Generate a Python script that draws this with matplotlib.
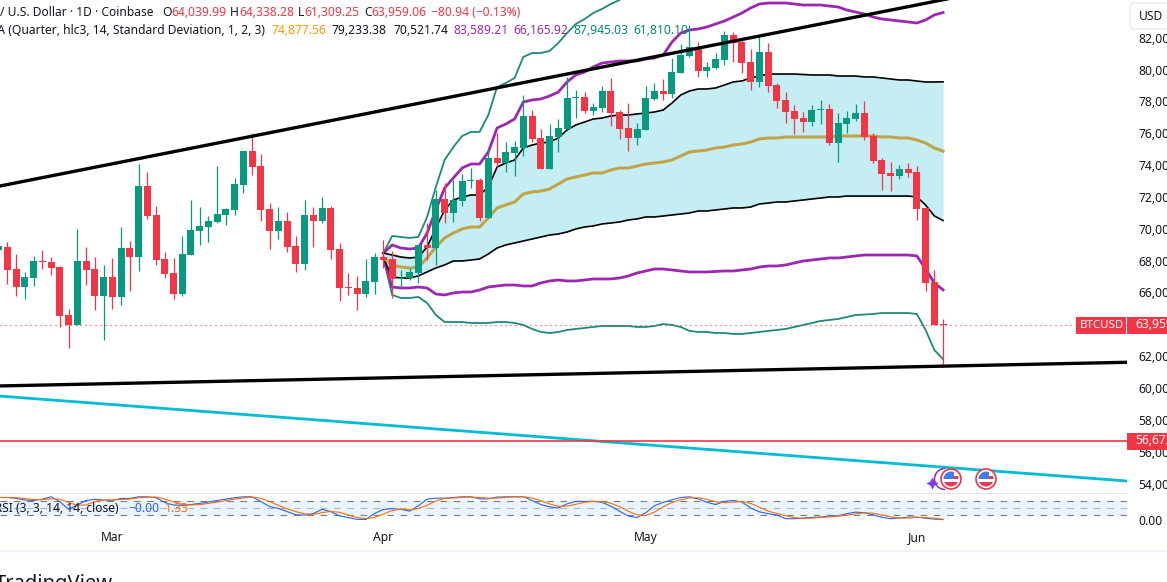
import matplotlib
matplotlib.use("Agg")
import matplotlib.pyplot as plt
from matplotlib.patches import Circle, Rectangle, FancyBboxPatch, Arc

plt.rcParams['font.family'] = ['Noto Sans', 'DejaVu Sans']

GREEN = '#089981'
RED = '#F23645'
TXT = 8.7

#Daily candles, one per day from late Feb to early Jun
opens = [68700,68860,67480,66350,66910,67980,67920,67600,64590,63960,
         67980,67480,65780,66970,65720,68800,68230,72690,70870,68105,
         67225,65905,68360,69865,70115,70430,70870,71180,72755,74890,
         73945,71245,69865,70490,68920,67790,70870,70490,71310,68735,
         66345,66285,65905,66660,68230,68105,66850,66910,67225,68985,
         68800,71875,70995,71750,73005,73070,70680,74450,74135,74765,
         75080,77090,75705,73760,75770,76270,78220,78280,77400,77590,
         78660,77340,76335,75705,76210,78155,78660,78470,79790,80860,
         81425,79915,80105,80606,82175,81740,80480,79225,81110,79035,
         78095,77400,76960,76710,77465,77530,75390,76585,76900,77275,
         75830,74325,73505,73320,73760,73570,71310,66660,64040]
highs = [68920,69170,68420,67290,68290,68670,68230,67670,64960,69990,
         68860,68230,67730,68170,70115,69235,74075,73570,71435,68545,
         68170,69550,71810,71370,70805,73945,71310,73195,74890,76020,
         74700,71625,71370,71055,69550,71810,71370,72000,71435,69110,
         67225,67035,68105,68480,69300,68610,67415,67540,68985,70365,
         72440,72880,73070,73445,73820,73195,74950,76020,75455,75515,
         78410,77465,76270,76585,76900,79540,78720,78595,77905,78975,
         79475,77465,77905,76650,78975,79160,79415,80730,81610,82805,
         81740,80480,81045,82430,82365,81925,81295,82050,81675,79160,
         78600,77780,77340,77780,78095,77845,77275,77400,77845,78030,
         76020,74450,74200,74010,74135,73945,71310,67415,64338]
lows = [68700,66530,65780,65590,66410,67480,67100,63835,62510,63960,
        66470,64900,63020,64960,65215,66095,67350,70620,67730,66910,
        65590,65780,68360,68985,69175,70365,70240,70870,72250,73380,
        70490,68735,69360,68545,67290,67415,68860,70365,68105,65465,
        65845,64900,65720,65905,67540,65655,66345,66785,66600,68040,
        67730,70365,70430,71435,72565,70490,70680,73885,73570,73320,
        74575,75455,73760,73760,74825,76270,76960,77275,77150,77340,
        76460,75645,74890,75265,76210,78095,78095,78220,79790,80795,
        79540,79540,80040,80290,80480,79790,78720,78910,78600,77590,
        76650,75955,76085,76460,76585,75265,74200,76020,76775,75580,
        74135,72440,72375,73130,73255,70555,66095,63960,61309]
closes = [68920,67410,66350,66970,67980,67920,67540,64525,63960,67980,
          67410,65780,66970,65720,68800,68230,72690,70805,68040,67165,
          65905,68420,69925,70180,70490,70930,71245,72815,74890,73885,
          71180,69865,70490,68860,67790,70870,70490,71310,68670,66285,
          66285,65905,66725,68230,68040,66850,66910,67285,68985,68800,
          71875,70995,71810,73005,73070,70680,74450,74135,74825,75140,
          77090,75645,73760,75830,76335,78220,78280,77400,77655,78660,
          77275,76270,75705,76270,78220,78660,78470,79850,80920,81425,
          79915,80170,80670,82175,81675,80420,79225,81110,78975,78030,
          77340,76900,76710,77465,77530,75390,76650,76960,77275,75770,
          74260,73445,73320,73760,73505,71245,66600,63960,63959]

#Anchored VWAP and its bands, they start at bar 44
band_start = 44
vwap = [68170,67730,67600,67540,67600,68170,68860,69425,69740,69990,70115,70115,70680,71310,71500,71685,
        72190,72315,72375,72500,72815,73130,73255,73380,73505,73505,73695,73820,73820,73945,74070,74135,
        74200,74325,74575,74825,74890,74950,75080,75140,75265,75330,75455,75645,75705,75705,75770,75770,
        75770,75770,75770,75770,75830,75830,75830,75830,75830,75770,75770,75705,75705,75580,75390,75080,74877]
upper1 = [68480,68355,68230,68165,68230,68860,70050,71185,71810,72000,72125,72125,72630,73885,74135,74325,
          75080,75265,75390,75455,75705,76210,76525,76710,76900,76960,77090,77150,77150,77215,77275,77340,
          77465,77905,78405,78660,78785,78785,78850,79035,79225,79290,79475,79600,79725,79725,79725,79725,
          79695,79665,79665,79665,79600,79600,79600,79540,79540,79475,79415,79350,79350,79285,79225,79225,79233]
lower1 = [68170,66975,66910,66910,67040,67290,67540,67730,67980,67980,68040,68105,68420,68795,68985,69110,
          69235,69360,69485,69610,69675,69800,69990,70115,70180,70305,70365,70430,70555,70620,70745,70745,
          70805,70870,70930,70995,71120,71120,71185,71245,71310,71310,71370,71560,71620,71685,71685,71750,
          71810,71875,71935,72000,72000,72060,72060,72060,72060,72060,72060,72060,72060,72000,71495,70805,70521]
upper2 = [68480,68985,68795,68730,68795,69740,71185,72565,73195,73820,74070,74070,74825,76335,76585,76900,
          77965,78095,78155,78345,78595,79225,79665,79850,80165,80415,80480,80545,80545,80545,80670,80730,
          80920,81735,82300,82490,82555,82680,82870,83055,83305,83560,83875,84125,84185,84185,84185,84125,
          84060,84060,84060,83995,83935,83745,83620,83495,83305,83180,83120,83055,82995,82930,83120,83435,83589]
lower2 = [68170,66345,66285,66285,66345,66285,65905,65845,65970,66030,66030,66155,66345,66410,66470,66470,
          66410,66410,66600,66725,66785,66725,66725,66785,66850,66850,66850,66910,67035,67225,67350,67475,
          67475,67415,67350,67290,67290,67290,67320,67350,67350,67415,67475,67600,67665,67665,67730,67855,
          67980,68040,68105,68170,68170,68230,68295,68355,68355,68355,68355,68355,68355,68295,67475,66600,66166]
upper3 = [68480,69550,69490,69425,69490,70745,72630,74325,75140,75830,76085,76085,77150,78910,79160,79475,
          80795,81045,81045,81170,81675,82300,82865,83180,83560,83810,84125,84375,84800,85100,85400,85700,
          86000,86300,86600,86900,87100,87300,87400,87500,87600,87700,87800,87850,87900,87950,88000,88050,
          88100,88150,88200,88250,88300,88300,88300,88300,88300,88300,88300,88300,88350,88200,88100,88000,87945]
lower3 = [68170,65845,65655,65655,65720,65340,64590,64145,64145,64145,64085,64085,64085,64145,64145,64085,
          63960,63710,63520,63455,63520,63645,63710,63770,63835,63895,63895,63895,63895,63835,63835,63895,
          64020,63960,63835,63585,63520,63520,63455,63455,63395,63395,63455,63520,63585,63645,63710,63835,
          63960,64085,64210,64275,64335,64460,64585,64615,64650,64710,64710,64710,64710,64650,63645,62390,61810]

#Drawn lines: (bar, price) at both ends
channel_top_x, channel_top_y = [-1, 110], [72565, 84607]
channel_bot_x, channel_bot_y = [0, 129], [60127, 61615]
cyan_x, cyan_y = [0, 129], [59498, 54158]
support = 56672
last_close = 63959

#Stoch RSI
stoch_k = [97,97,93,86,84,90,100,79,45,64,84,89,86,84,93,93,100,100,96,75,64,62,66,71,77,84,90,96,100,100,
           79,57,49,35,21,20,27,45,35,16,9,1,1,27,45,48,45,
           37,61,90,94,94,97,100,100,91,91,99,100,100,100,84,66,56,51,69,80,80,80,76,59,37,16,9,30,61,76,87,97,
           100,91,76,66,80,84,77,51,34,26,20,4,4,7,10,11,16,17,26,33,30,21,10,4,7,11,11,6,2,0]
stoch_d = [97,97,96,92,88,87,91,90,75,63,64,79,86,86,88,90,96,98,99,90,78,67,64,66,71,77,84,90,95,99,
           93,79,62,47,35,25,23,31,36,32,20,9,4,10,24,40,46,
           43,49,63,82,93,95,97,99,97,94,94,97,100,100,95,83,69,58,59,67,76,80,79,72,57,37,21,18,33,56,75,87,
           95,96,89,78,74,77,80,71,54,37,27,17,9,5,7,9,12,15,20,25,30,28,20,12,7,7,10,9,6,1.33]

#64,000 sits behind the price tag and 84,000 behind the USD button
price_ticks = [p for p in range(54000, 82001, 2000) if p != 64000]
month_bars = [13, 44, 74, 105]
month_names = ['Mar', 'Apr', 'May', 'Jun']

W, H = 1167, 582
fig = plt.figure(figsize=(W / 100, H / 100), dpi=100)
PANE_R = 1127
XLIM = (0.16, 129.03)

def px_axes(top, bottom):
    return fig.add_axes([0, 1 - bottom / H, PANE_R / W, (bottom - top) / H])

#Main pane
ax = px_axes(0, 492.5)
ax.set_xlim(*XLIM)
ax.set_ylim(53435, 84375)

bars = list(range(len(opens)))
band_x = list(range(band_start, band_start + len(vwap)))

ax.fill_between(band_x, lower1, upper1, color='#C4EEF3', lw=0, zorder=1)
ax.plot(band_x, upper3, color='#1B8A7A', lw=1.3, zorder=2)
ax.plot(band_x, lower3, color='#1B8A7A', lw=1.3, zorder=2)
ax.plot(band_x, upper2, color='#9C27B0', lw=2.0, zorder=2)
ax.plot(band_x, lower2, color='#9C27B0', lw=2.0, zorder=2)
ax.plot(band_x, upper1, color='black', lw=1.2, zorder=2)
ax.plot(band_x, lower1, color='black', lw=1.2, zorder=2)
ax.plot(band_x, vwap, color='#C2A347', lw=2.2, zorder=2)

colors = [GREEN if c >= o else RED for o, c in zip(opens, closes)]
ax.vlines(bars, lows, highs, colors=colors, lw=0.9, zorder=3)
body_bottom = [min(o, c) for o, c in zip(opens, closes)]
body_height = [max(abs(c - o), 40) for o, c in zip(opens, closes)]
ax.bar(bars, body_height, bottom=body_bottom, width=0.8, color=colors, lw=0, zorder=3)

ax.plot(channel_top_x, channel_top_y, color='black', lw=2.4, zorder=4)
ax.plot(channel_bot_x, channel_bot_y, color='black', lw=2.4, zorder=4)
ax.plot(cyan_x, cyan_y, color='#00BCD4', lw=2.0, zorder=4)
ax.axhline(support, color=RED, lw=1.2, zorder=4)
ax.axhline(last_close, color=RED, lw=0.8, ls=(0, (1, 3.5)), zorder=2)

ax.yaxis.tick_right()
ax.set_yticks(price_ticks)
ax.set_yticklabels([f'{p:,}' for p in price_ticks], fontsize=TXT, color='#131722')
ax.tick_params(axis='y', length=0, pad=8)
ax.set_xticks([])
for s in ax.spines.values():
    s.set_visible(False)

#Oscillator pane
osc = px_axes(492.5, 523.5)
osc.set_xlim(*XLIM)
osc.set_ylim(-17, 118.9)
osc.axhspan(20, 80, color='#E9F4FE', lw=0, zorder=1)
osc.axhline(80, color='#787B86', lw=0.8, ls=(0, (6, 6)), zorder=2)
osc.axhline(50, color='#B2B5BE', lw=0.8, ls=(0, (6, 6)), zorder=2)
osc.axhline(20, color='#787B86', lw=0.8, ls=(0, (6, 6)), zorder=2)
osc.plot(bars, stoch_k, color='#2962FF', lw=0.8, zorder=3)
osc.plot(bars, stoch_d, color='#FF6D00', lw=0.8, zorder=3)
osc.yaxis.tick_right()
osc.set_yticks([0])
osc.set_yticklabels(['0.00'], fontsize=TXT, color='#131722')
osc.tick_params(axis='y', length=0, pad=8)
osc.set_xticks([])
for s in osc.spines.values():
    s.set_visible(False)
osc.spines['top'].set_visible(True)
osc.spines['top'].set_color('#E0E3EB')
osc.spines['top'].set_linewidth(0.8)

#Date strip
strip = px_axes(523.5, 550)
strip.set_xlim(*XLIM)
strip.set_ylim(0, 1)
strip.set_yticks([])
strip.set_xticks(month_bars)
strip.set_xticklabels(month_names, fontsize=TXT, color='#131722')
strip.tick_params(axis='x', length=0, pad=0, direction='in')
for tick_label in strip.get_xticklabels():
    tick_label.set_y(0.72)
for s in strip.spines.values():
    s.set_visible(False)
strip.patch.set_alpha(0)

#Overlay in pixels for legends, price tags and event icons
top = fig.add_axes([0, 0, 1, 1], zorder=10)
top.set_xlim(0, W)
top.set_ylim(H, 0)
top.axis('off')

def label(x, y, s, color='#131722', ha='left', size=TXT, **kw):
    top.text(x, y, s, color=color, ha=ha, va='center', fontsize=size, **kw)

label(154, 13, 'Bitcoin / U.S. Dollar · 1D · Coinbase', ha='right')
for x, head, val in [(162, 'O', '64,039.99'), (230, 'H', '64,338.28'),
                     (298, 'L', '61,309.25'), (364, 'C', '63,959.06')]:
    t = top.text(x, 13, head, color='#131722', va='center', fontsize=TXT)
    w = t.get_window_extent(fig.canvas.get_renderer()).width
    label(x + w, 13, val, color=RED)
label(431, 13, '−80.94 (−0.13%)', color=RED)

label(265, 31, 'VWAP AA (Quarter, hlc3, 14, Standard Deviation, 1, 2, 3)', ha='right')
for x, val, col in [(272, '74,877.56', '#FF9800'), (332, '79,233.38', '#131722'),
                    (393, '70,521.74', '#131722'), (453, '83,589.21', '#9C27B0'),
                    (513, '66,165.92', '#9C27B0'), (573, '87,945.03', '#00897B'),
                    (633, '61,810.10', '#00897B')]:
    label(x, 31, val, color=col)

label(119, 508, 'Stoch RSI (3, 3, 14, 14, close)', ha='right')
label(128, 508, '−0.00', color='#2962FF')
label(165, 508, '1.33', color='#FF6D00')

#USD button
top.add_patch(FancyBboxPatch((1130, 3), 55, 26, boxstyle='round,pad=0,rounding_size=4',
                             fc='white', ec='#E0E3EB', lw=0.8))
label(1139, 16, 'USD')

#Price tags
top.add_patch(Rectangle((1076, 317), 50, 17, fc=RED, lw=0))
top.add_patch(Rectangle((1127, 317), 40, 17, fc=RED, lw=0))
top.add_patch(Rectangle((1127, 433), 40, 17, fc=RED, lw=0))
label(1080, 325.5, 'BTCUSD', color='white', size=8.3)
label(1135, 325, '63,959', color='white')
label(1135, 441, '56,672', color='white')

#Separator under the date strip
top.plot([0, W], [550.5, 550.5], color='#F0F3FA', lw=1.6)
label(113, 584, 'TradingView', ha='right', size=14.5, fontweight='bold', color='#131722')

#Event icons
top.scatter([932], [483], marker=(4, 1, 0), s=75, color='#7B3FF2', lw=0, zorder=3)
top.add_patch(Arc((945, 479), 21, 21, theta1=90, theta2=270, ec='#9C27B0', lw=1.1, zorder=3))
for cx in [951, 986]:
    cy = 479
    top.add_patch(Circle((cx, cy), 10, fc='white', ec='#E53950', lw=1.2, zorder=4))
    clip = Circle((cx, cy), 7.5, transform=top.transData)
    canton = Rectangle((cx - 8, cy - 8), 11, 8, fc='#3D7FE6', lw=0, zorder=5)
    stripe = Rectangle((cx + 3, cy - 3), 6, 3, fc='#E53950', lw=0, zorder=5)
    belly = Rectangle((cx - 8, cy + 3), 16, 6, fc='#E53950', lw=0, zorder=5)
    for p in (canton, stripe, belly):
        top.add_patch(p)
        p.set_clip_path(clip)

fig.savefig('out.png', dpi=100)
